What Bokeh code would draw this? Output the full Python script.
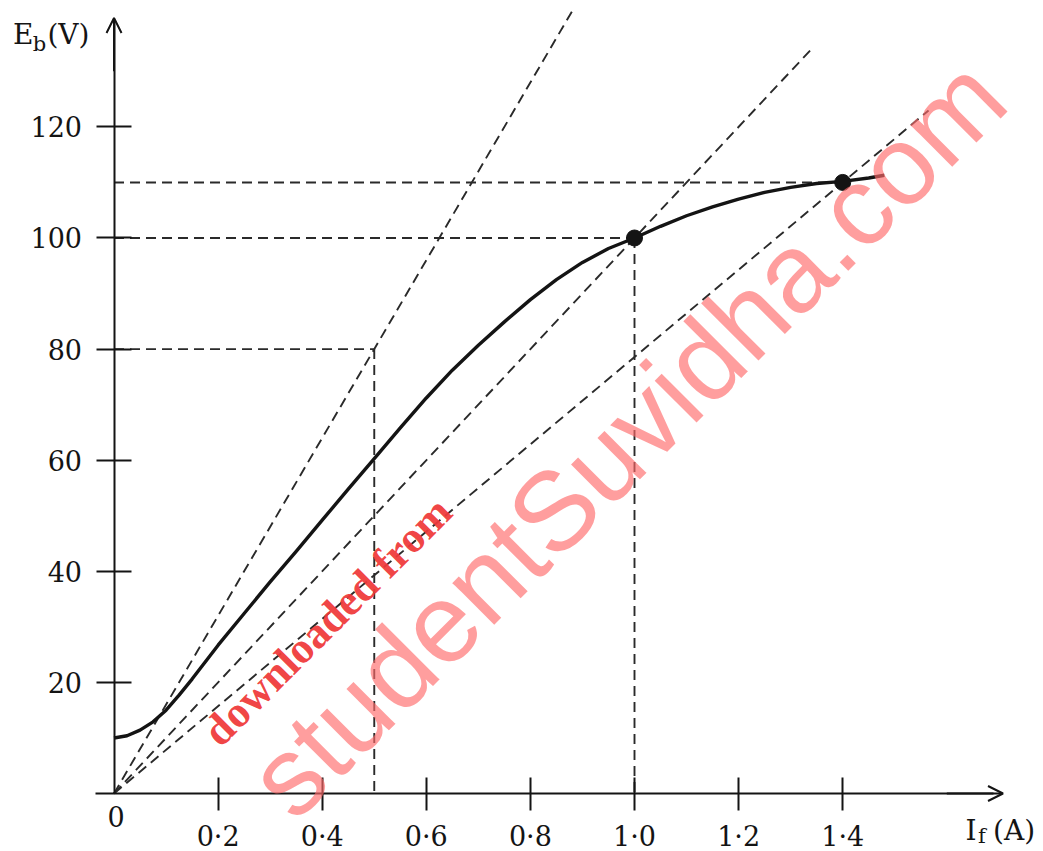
from bokeh.plotting import figure
from bokeh.models import LinearAxis, FixedTicker, Arrow, OpenHead, Label, Range1d
from bokeh.embed import file_html
from bokeh.resources import INLINE

# ---- data ----
curve_x = [0.0, 0.025, 0.05, 0.075, 0.1, 0.125, 0.15, 0.2, 0.25, 0.3, 0.35, 0.4, 0.45, 0.5,
           0.55, 0.6, 0.65, 0.7, 0.75, 0.8, 0.85, 0.9, 0.95, 1.0, 1.05, 1.1, 1.15, 1.2,
           1.25, 1.3, 1.35, 1.4, 1.45, 1.48]
curve_y = [10.0, 10.4, 11.4, 12.9, 15.0, 17.7, 20.6, 26.7, 32.4, 38.1, 43.6, 49.2, 54.8, 60.3,
           65.8, 71.2, 76.2, 80.7, 84.9, 88.9, 92.5, 95.6, 98.1, 100.0, 102.1, 104.0, 105.6, 107.0,
           108.2, 109.1, 109.8, 110.2, 110.8, 111.3]

op_x = [0.5, 1.0, 1.4]          # points where the rays meet the guides
op_y = [80, 100, 110]
ray_end_x = [0.88, 1.345, 1.565]
drop_x = [0.5, 1.0]             # vertical guides
drop_y = [80, 100]
dot_x = [1.0, 1.4]
dot_y = [100, 110]

x_ticks = [0.2, 0.4, 0.6, 0.8, 1.0, 1.2, 1.4]
x_tick_labels = ["0·2", "0·4", "0·6", "0·8", "1·0", "1·2", "1·4"]
y_ticks = [20, 40, 60, 80, 100, 120]

INK = "#141414"
DASH = "#2a2a2a"
SERIF = "DejaVu Serif"

p = figure(width=1043, height=851,
           x_range=Range1d(-0.2181, 1.7858), y_range=Range1d(-10.44, 142.75),
           x_axis_type=None, y_axis_type=None,
           toolbar_location=None, output_backend="svg",
           min_border=0, outline_line_color=None)
p.background_fill_color = "white"

# rays from origin
ray_end_y = [oy / ox * ex for ox, oy, ex in zip(op_x, op_y, ray_end_x)]
p.segment(x0=[0] * 3, y0=[0] * 3, x1=ray_end_x, y1=ray_end_y,
          line_color=DASH, line_width=1.9, line_dash="10 6")
# horizontal guides
p.segment(x0=[0] * 3, y0=op_y, x1=op_x, y1=op_y,
          line_color=DASH, line_width=1.9, line_dash="10 6")
# vertical guides
p.segment(x0=drop_x, y0=drop_y, x1=drop_x, y1=[0] * 2,
          line_color=DASH, line_width=1.9, line_dash="10 6")

# magnetisation curve
p.line(curve_x, curve_y, line_color=INK, line_width=3.4, line_join="round")
p.scatter(dot_x, dot_y, size=16, fill_color=INK, line_color=INK)

# axes through the origin
xaxis = LinearAxis(fixed_location=0, ticker=FixedTicker(ticks=x_ticks),
                   major_label_overrides=dict(zip(x_ticks, x_tick_labels)),
                   bounds=(-0.036, 1.69))
yaxis = LinearAxis(fixed_location=0, ticker=FixedTicker(ticks=y_ticks), bounds=(0, 139.0))
for ax, tin, tout, so in ((xaxis, 16, 17, 10), (yaxis, 17, 18, 14)):
    ax.axis_line_width = 2
    ax.axis_line_color = INK
    ax.major_tick_line_width = 2
    ax.major_tick_line_color = INK
    ax.major_tick_in = tin
    ax.major_tick_out = tout
    ax.minor_tick_line_color = None
    ax.major_label_text_font = SERIF
    ax.major_label_text_font_size = "27px"
    ax.major_label_text_color = INK
    ax.major_label_standoff = so
p.add_layout(xaxis, "below")
p.add_layout(yaxis, "left")

p.add_layout(Arrow(end=OpenHead(size=15, line_width=2, line_color=INK),
                   x_start=1.6, y_start=0, x_end=1.708, y_end=0,
                   line_width=2, line_color=INK))
p.add_layout(Arrow(end=OpenHead(size=15, line_width=2, line_color=INK),
                   x_start=0, y_start=130, x_end=0, y_end=139.6,
                   line_width=2, line_color=INK))

def lab(text, x, y, size, align="left", baseline="alphabetic", **kw):
    p.add_layout(Label(x=x, y=y, text=text, text_font=SERIF, text_font_size=size,
                       text_color=INK, text_align=align, text_baseline=baseline, **kw))

lab("0", 0, 0, "27px", align="center", baseline="top", x_offset=2, y_offset=-12)
# axis titles
lab("E", -0.194, 136.6, "28px")
lab("b", -0.156, 135.0, "21px")
lab("(V)", -0.128, 136.6, "28px")
lab("I", 1.636, -6.6, "28px")
lab("f", 1.660, -7.7, "21px")
lab("(A)", 1.689, -6.6, "28px")

# watermark
p.add_layout(Label(x=0.985, y=64.0, text="studentSuvidha.com", angle=45, angle_units="deg",
                   text_font="Liberation Sans", text_font_size="112px",
                   text_color="#ff6a6a", text_alpha=0.65,
                   text_align="center", text_baseline="middle"))
p.add_layout(Label(x=0.410, y=31.0, text="downloaded from", angle=45, angle_units="deg",
                   text_font="Liberation Serif", text_font_size="44px", text_font_style="bold",
                   text_color="#f03a3a", text_alpha=0.95,
                   text_align="center", text_baseline="middle"))

open("out.html", "w").write(file_html(p, INLINE))
